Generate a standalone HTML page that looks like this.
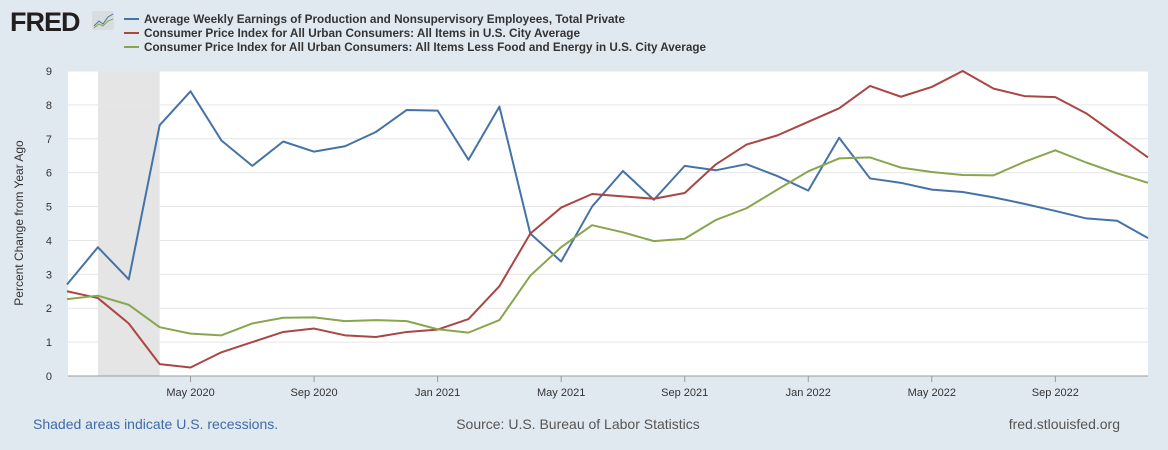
<!DOCTYPE html>
<html><head><meta charset="utf-8"><style>
body{margin:0;width:1168px;height:450px;background:#e1e9f0;font-family:"Liberation Sans",sans-serif;overflow:hidden}
svg{display:block}
</style></head><body>
<svg width="1168" height="450">
<g>
<text x="10" y="31" font-size="27" font-weight="bold" fill="#231f20" letter-spacing="-1">FRED</text>
<rect x="92" y="11" width="22" height="19" fill="#d8dde2" rx="2"/>
<polyline points="94,26 99,21 103,24 108,17 113,14" fill="none" stroke="#4572a7" stroke-width="1"/>
<polyline points="94,28 99,24 103,26 108,21 113,19" fill="none" stroke="#89a54e" stroke-width="1"/>
</g>
<g font-size="12" font-weight="bold" fill="#333">
<line x1="124" y1="19" x2="139" y2="19" stroke="#4572a7" stroke-width="2"/>
<text x="144" y="23" textLength="481" lengthAdjust="spacingAndGlyphs">Average Weekly Earnings of Production and Nonsupervisory Employees, Total Private</text>
<line x1="124" y1="33" x2="139" y2="33" stroke="#aa4643" stroke-width="2"/>
<text x="144" y="37" textLength="436" lengthAdjust="spacingAndGlyphs">Consumer Price Index for All Urban Consumers: All Items in U.S. City Average</text>
<line x1="124" y1="47" x2="139" y2="47" stroke="#89a54e" stroke-width="2"/>
<text x="144" y="51" textLength="562" lengthAdjust="spacingAndGlyphs">Consumer Price Index for All Urban Consumers: All Items Less Food and Energy in U.S. City Average</text>
</g>
<rect x="68" y="71" width="1080" height="305" fill="#fff"/>
<g id="chart"></g>
<text transform="translate(23,223) rotate(-90)" text-anchor="middle" font-size="12" fill="#333">Percent Change from Year Ago</text>
<text x="33" y="429" font-size="14" fill="#3e6aa6">Shaded areas indicate U.S. recessions.</text>
<text x="578" y="429" font-size="14" fill="#555" text-anchor="middle">Source: U.S. Bureau of Labor Statistics</text>
<text x="1120" y="429" font-size="14" fill="#555" text-anchor="end">fred.stlouisfed.org</text>
</svg>
<script>
const earnings=[2.7,3.8,2.85,7.4,8.4,6.95,6.2,6.92,6.62,6.78,7.2,7.85,7.83,6.38,7.95,4.2,3.38,5.0,6.05,5.2,6.2,6.07,6.25,5.9,5.47,7.03,5.83,5.7,5.5,5.43,5.27,5.08,4.87,4.65,4.58,4.07];
const cpi=[2.5,2.3,1.55,0.35,0.25,0.7,1.0,1.3,1.4,1.2,1.15,1.3,1.37,1.68,2.65,4.2,4.97,5.37,5.3,5.23,5.4,6.24,6.83,7.1,7.5,7.9,8.56,8.24,8.53,9.0,8.48,8.26,8.23,7.75,7.1,6.45];
const core=[2.27,2.37,2.1,1.44,1.25,1.2,1.55,1.72,1.73,1.62,1.65,1.62,1.38,1.28,1.65,2.96,3.8,4.45,4.24,3.98,4.05,4.6,4.95,5.5,6.04,6.42,6.45,6.15,6.02,5.93,5.92,6.32,6.66,6.3,5.98,5.7];
const yTicks=[0,1,2,3,4,5,6,7,8,9];
const xTickIdx=[4,8,12,16,20,24,28,32];
const xTickLabels=["May 2020","Sep 2020","Jan 2021","May 2021","Sep 2021","Jan 2022","May 2022","Sep 2022"];
const recession=[1,3];
const NS="http://www.w3.org/2000/svg";
const g=document.getElementById('chart');
const X=i=>67+i*(1081/35);
const Y=v=>376-v*(305/9);
function mk(t,a){const e=document.createElementNS(NS,t);for(const k in a)e.setAttribute(k,a[k]);g.appendChild(e);return e;}
let r=mk('rect',{x:X(recession[0]),y:71,width:X(recession[1])-X(recession[0]),height:305,fill:'#e5e5e5'});


yTicks.forEach(v=>{
 let l=mk('line',{x1:68,x2:1148,y1:Y(v),y2:Y(v),stroke:'#e6e6e6'});
 
 
 let t=mk('text',{x:52,y:Y(v)+4,'font-size':11,fill:'#333','text-anchor':'end'});
 t.textContent=v;
 
 
});
xTickIdx.forEach((i,k)=>{
 let tk=mk('line',{x1:X(i),x2:X(i),y1:376,y2:382,stroke:'#999'});
 
 
 let t=mk('text',{x:X(i),y:396,'font-size':11,fill:'#333','text-anchor':'middle'});
 t.textContent=xTickLabels[k];
 
 
});
let ax=mk('line',{x1:68,x2:1148,y1:376,y2:376,stroke:'#999'});


[[earnings,'#4572a7','earnings-line'],[cpi,'#aa4643','cpi-line'],[core,'#89a54e','core-cpi-line']].forEach(([d,c,n])=>{
 let p=mk('polyline',{points:d.map((v,i)=>X(i)+','+Y(v)).join(' '),fill:'none',stroke:c,'stroke-width':2,'stroke-linejoin':'round'});
 
 
});
</script>
</body></html>
